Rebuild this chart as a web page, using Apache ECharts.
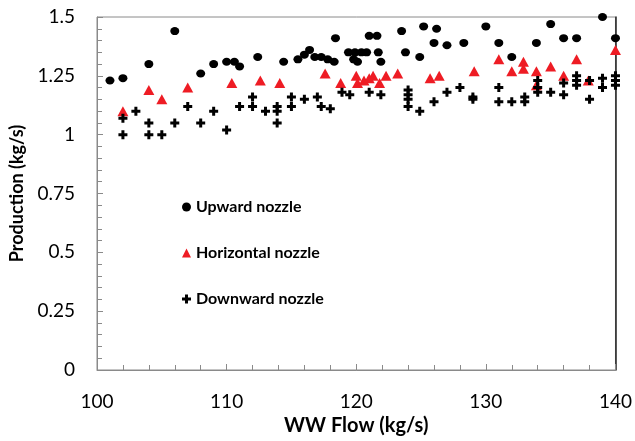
<!DOCTYPE html>
<html>
<head>
<meta charset="utf-8">
<script src="https://cdn.jsdelivr.net/npm/echarts@6/dist/echarts.min.js"></script>
<style>html,body{margin:0;padding:0;background:#fff;}#c{width:635px;height:441px;}</style>
</head>
<body>
<div id="c"></div>
<script>
var xTicks = [100, 110, 120, 130, 140];
var yTicks = [0, 0.25, 0.5, 0.75, 1, 1.25, 1.5];

var upX = [101,102,104,106,108,109,110,110.6,111,112.4,114.4,115.5,116,116.4,116.8,117.3,117.8,118.3,118.4,119.4,119.8,119.9,120.1,120.4,120.8,121.0,121.6,121.7,121.9,123.5,123.8,124.9,125.2,126.0,126.2,127.0,128.3,130.0,131.0,132.0,133.9,135.0,136.0,137.0,139.0,140.0];
var upY = [1.23,1.24,1.30,1.44,1.26,1.30,1.31,1.31,1.29,1.33,1.31,1.32,1.34,1.36,1.33,1.33,1.32,1.31,1.41,1.35,1.32,1.35,1.31,1.35,1.35,1.42,1.42,1.35,1.31,1.44,1.35,1.33,1.46,1.39,1.45,1.38,1.39,1.46,1.39,1.33,1.39,1.47,1.41,1.41,1.50,1.41];

var horX = [102,104,105,107,110.4,112.6,114.1,117.6,118.8,120.0,120.1,120.6,121.0,121.3,121.8,122.3,123.2,125.7,126.4,129.1,131.0,132.0,132.9,132.9,133.9,133.9,135.0,136.0,137.0,137.9,140.0];
var horY = [1.10,1.19,1.15,1.20,1.22,1.23,1.22,1.26,1.22,1.25,1.22,1.23,1.24,1.25,1.22,1.25,1.26,1.24,1.25,1.27,1.32,1.27,1.31,1.28,1.27,1.21,1.29,1.25,1.32,1.23,1.36];

var downX = [102,102,103,104,104,105,106,107,108,109,110,111,112,112,113,113.9,113.9,113.9,115,115,116,117,117.3,118,118.9,119.5,121,121.9,124,124,124,124,124.9,126,127,128,129,129,131,131,132,133,133,134,134,134,135,136,136,137,137,137,138,138,139,139,140,140,140];
var downY = [1.07,1.00,1.10,1.05,1.00,1.00,1.05,1.12,1.05,1.10,1.02,1.12,1.16,1.12,1.10,1.12,1.10,1.05,1.16,1.12,1.15,1.16,1.12,1.11,1.18,1.17,1.18,1.17,1.19,1.17,1.15,1.12,1.10,1.14,1.18,1.20,1.16,1.15,1.20,1.14,1.14,1.16,1.14,1.23,1.20,1.18,1.18,1.22,1.17,1.25,1.23,1.21,1.23,1.15,1.24,1.20,1.25,1.23,1.21];

var seriesNames = ['Upward nozzle', 'Horizontal nozzle', 'Downward nozzle'];
var xTitle = 'WW Flow (kg/s)';
var yTitle = 'Production (kg/s)';

function pairs(xs, ys) { return xs.map(function (x, i) { return [x, ys[i]]; }); }

var plusPath = 'path://M3,0H6V3H9V6H6V9H3V6H0V3H3Z';
var FONT = 'Lato';

var chart = echarts.init(document.getElementById('c'), null, { renderer: 'canvas' });
chart.setOption({
  animation: false,
  backgroundColor: '#fff',
  textStyle: { fontFamily: FONT },
  grid: { left: 97, right: 19, top: 17, bottom: 65, show: true, borderColor: '#8a8a8a', borderWidth: 1 },
  legend: {
    orient: 'vertical',
    left: 177, top: 194,
    itemWidth: 9, itemHeight: 9,
    itemGap: 30,
    textStyle: { fontFamily: FONT, fontWeight: 'bold', fontSize: 16, color: '#000' },
    data: [
      { name: seriesNames[0], icon: 'circle' },
      { name: seriesNames[1], icon: 'triangle' },
      { name: seriesNames[2], icon: plusPath }
    ]
  },
  xAxis: [{
    type: 'value', min: xTicks[0], max: xTicks[xTicks.length - 1], interval: 10,
    name: xTitle, nameLocation: 'middle', nameGap: 46,
    nameTextStyle: { fontFamily: FONT, fontWeight: 'bold', fontSize: 20, color: '#000' },
    axisLine: { show: true, lineStyle: { color: '#8a8a8a', width: 1 } },
    axisTick: { show: true, inside: true, length: 6, lineStyle: { color: '#8a8a8a' } },
    minorTick: { show: true, splitNumber: 5, length: 5, lineStyle: { color: '#8a8a8a' } },
    axisLabel: { fontFamily: FONT, fontSize: 19, color: '#000', margin: 22 },
    splitLine: { show: false }
  }],
  yAxis: [{
    type: 'value', min: yTicks[0], max: yTicks[yTicks.length - 1], interval: 0.25,
    name: yTitle, nameLocation: 'middle', nameGap: 68, nameRotate: 90,
    nameTextStyle: { fontFamily: FONT, fontWeight: 'bold', fontSize: 18, color: '#000' },
    axisLine: { show: true, lineStyle: { color: '#8a8a8a', width: 1 } },
    axisTick: { show: true, inside: true, length: 6, lineStyle: { color: '#8a8a8a' } },
    minorTick: { show: true, splitNumber: 5, length: 5, lineStyle: { color: '#8a8a8a' } },
    axisLabel: { fontFamily: FONT, fontSize: 19, color: '#000', margin: 22 },
    splitLine: { show: false }
  }, {
    type: 'value', position: 'right', min: 0, max: 1.5,
    axisLine: { show: true, lineStyle: { color: '#222', width: 1.5 } },
    axisTick: { show: false }, axisLabel: { show: false }, splitLine: { show: false }
  }],
  series: [
    { name: seriesNames[0], type: 'scatter', data: pairs(upX, upY), symbol: 'circle', symbolSize: [9, 8], itemStyle: { color: '#000', opacity: 1 } },
    { name: seriesNames[1], type: 'scatter', data: pairs(horX, horY), symbol: 'triangle', symbolSize: [11, 10], itemStyle: { color: '#ee1c24', opacity: 1 } },
    { name: seriesNames[2], type: 'scatter', data: pairs(downX, downY), symbol: plusPath, symbolSize: 9, itemStyle: { color: '#000', opacity: 1 } }
  ]
});
</script>
</body>
</html>
